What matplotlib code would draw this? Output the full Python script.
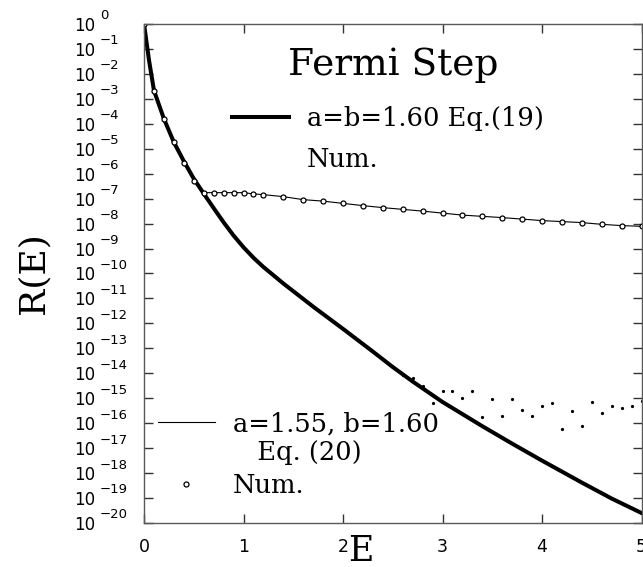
import numpy as np
import matplotlib.pyplot as plt
from matplotlib.lines import Line2D

# values, stored as log10 R(E)
e_eq19 = [0.0, 0.05, 0.1, 0.2, 0.3, 0.4, 0.5, 0.6, 0.7, 0.8, 0.9, 1.0, 1.1,
          1.2, 1.4, 1.7, 2.0, 2.3, 2.5, 2.7, 3.0, 3.4, 3.7, 4.0, 4.4, 4.7, 5.0]
logr_eq19 = [0.0, -1.45, -2.67, -3.8, -4.74, -5.5, -6.2, -6.8, -7.38, -7.95,
             -8.48, -8.95, -9.37, -9.74, -10.4, -11.33, -12.22, -13.13, -13.75,
             -14.33, -15.15, -16.12, -16.82, -17.5, -18.38, -19.02, -19.6]

# a=1.55, b=1.60: Eq. (20) and the numerical points (they coincide)
e_eq20 = [0.0, 0.1, 0.2, 0.3, 0.4, 0.5, 0.6, 0.7, 0.8, 0.9, 1.0, 1.1, 1.2,
          1.4, 1.6, 1.8, 2.0, 2.2, 2.4, 2.6, 2.8, 3.0, 3.2, 3.4, 3.6, 3.8,
          4.0, 4.2, 4.4, 4.6, 4.8, 5.0]
logr_eq20 = [0.0, -2.67, -3.8, -4.74, -5.56, -6.3, -6.76, -6.76, -6.76, -6.76,
             -6.76, -6.81, -6.84, -6.92, -7.04, -7.1, -7.19, -7.28, -7.36,
             -7.43, -7.5, -7.58, -7.66, -7.71, -7.76, -7.82, -7.88, -7.92,
             -7.96, -8.03, -8.08, -8.11]

# a=b=1.60 numerical points (noise floor beyond E~2.8)
e_num19 = [2.5, 2.6, 2.7, 2.8, 2.9, 3.0, 3.1, 3.2, 3.3, 3.4, 3.5, 3.6, 3.7,
           3.8, 3.9, 4.0, 4.1, 4.2, 4.3, 4.4, 4.5, 4.6, 4.7, 4.8, 4.9, 5.0]
logr_num19 = [-13.76, -14.05, -14.2, -14.5, -15.18, -14.7, -14.7, -14.98,
              -14.7, -15.76, -15.03, -15.71, -15.03, -15.47, -15.71, -15.3,
              -15.2, -16.23, -15.51, -16.1, -15.15, -15.6, -15.31, -15.38,
              -15.31, -15.1]

decades = list(range(0, -21, -1))
x_ticks = [0, 1, 2, 3, 4, 5]

serif = 'DejaVu Serif'

fig = plt.figure(figsize=(6.43, 5.67), dpi=100)
ax = fig.add_axes([0.2240, 0.0776, 0.7737, 0.8801])

r19 = 10.0 ** np.array(logr_eq19)
r20 = 10.0 ** np.array(logr_eq20)
rn19 = 10.0 ** np.array(logr_num19)

thick, = ax.plot(e_eq19, r19, color='black', lw=2.9, solid_joinstyle='round')
thin, = ax.plot(e_eq20, r20, color='black', lw=0.8)
circ, = ax.plot(e_eq20, r20, linestyle='none', marker='o', ms=3.6,
                mfc='white', mec='black', mew=0.9)
ax.plot(e_num19, rn19, linestyle='none', marker='.', ms=2.6, color='black')

ax.set_yscale('log')
ax.set_xlim(0, 5)
ax.set_ylim(1e-20, 1)

# axes frame and ticks
for sp in ax.spines.values():
    sp.set_color('0.35')
    sp.set_linewidth(1.0)
ax.minorticks_off()
ax.set_xticks(x_ticks)
ax.set_xticklabels([str(t) for t in x_ticks])
ax.set_yticks([10.0 ** d for d in decades])
ax.set_yticklabels(['10'] * len(decades))
ax.tick_params(which='both', direction='in', top=True, right=True,
               length=6.5, width=1.0, color='0.2')
ax.tick_params(axis='x', labelsize=12.5, pad=10.5)
ax.tick_params(axis='y', labelsize=12, pad=50.4)
for lab in ax.get_yticklabels():
    lab.set_horizontalalignment('left')

# exponents of the y tick labels
for d in decades:
    txt = '0' if d == 0 else '\u2212' + str(-d)
    ax.annotate(txt, xy=(0, 10.0 ** d), xycoords=('axes fraction', 'data'),
                xytext=(-31.7, 5.8), textcoords='offset points',
                ha='left', va='center', fontsize=9.5, annotation_clip=False)

ax.set_xlabel('E', fontsize=25, family=serif)
ax.xaxis.set_label_coords(0.436, -0.022)
ax.set_ylabel('R(E)', fontsize=26, family=serif)
ax.yaxis.set_label_coords(-0.189, 0.5)

ax.text(0.5, 0.8978, 'Fermi Step', transform=ax.transAxes, ha='center',
        va='baseline', fontsize=27, family=serif)

blank = Line2D([], [], linestyle='none')
leg_kw = dict(frameon=False, prop={'family': serif, 'size': 18.5},
              handlelength=2.2, handletextpad=0.7, borderpad=0,
              borderaxespad=0, loc='upper left')

leg1 = ax.legend([thick, blank], ['a=b=1.60 Eq.(19)', 'Num.'],
                 bbox_to_anchor=(0.1769, 0.8357), labelspacing=0.62, **leg_kw)
ax.add_artist(leg1)
leg2 = ax.legend([thin, blank], ['a=1.55, b=1.60', '   Eq. (20)'],
                 bbox_to_anchor=(0.0281, 0.2244), labelspacing=0.15, **leg_kw)
ax.add_artist(leg2)
ax.legend([circ], ['Num.'], bbox_to_anchor=(0.0281, 0.1002), **leg_kw)

fig.savefig('out.png', dpi=100)
